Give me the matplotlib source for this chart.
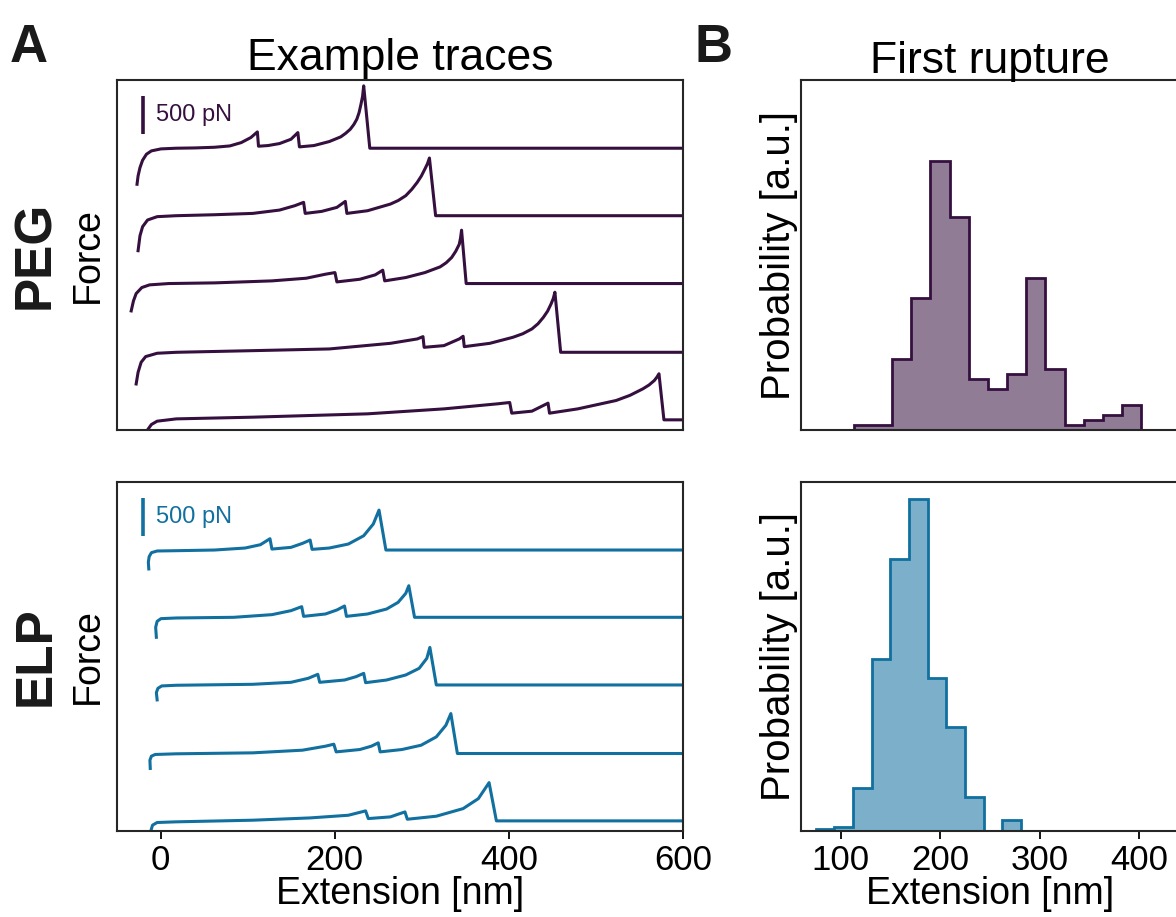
import numpy as np
import matplotlib.pyplot as plt

plt.rcParams['font.family'] = ['Liberation Sans', 'DejaVu Sans']

peg_color = '#35103f'
elp_color = '#11709f'

# example traces: extension [nm] and force above each trace's baseline [pN]
peg_ext = [
    [-27, -25.8, -23.6, -20.6, -16.2, -10.5, 0.5, 18, 40, 62, 79.6, 92.7, 103.7, 111.2, 112.5, 123.5, 136.7,
     149.8, 157.7, 159.5, 176.2, 193.8, 206.9, 212.5, 217.9, 222, 225.4, 228, 230.2, 232, 233.3, 240.3, 600],
    [-25.8, -23.6, -20.6, -14.9, -3.9, 18.1, 62, 105.9, 136.7, 154.2, 164.3, 166.1, 185, 202.5, 212.2, 214,
     237.7, 264, 273, 281.6, 288.5, 294.8, 299.5, 303.6, 306.5, 308.8, 315.9, 600],
    [-33.7, -31.1, -28, -21.5, -12.7, 9.3, 62, 127.9, 167.4, 189.4, 200.3, 202.5, 228.9, 246.5, 255.2, 257.4,
     281.6, 303.6, 321.1, 328, 334.3, 339, 343.1, 344.6, 345.7, 351, 600],
    [-28, -25.8, -22.3, -17.1, -3.9, 18.1, 105.9, 193.8, 264, 294.8, 301.4, 302.7, 325.5, 343.1, 347.5, 348.8,
     378.2, 404.6, 416, 426.5, 433.5, 439.7, 444.5, 448.5, 451, 452.9, 459.5, 600],
    [-19.3, -14.9, -10.5, -3.9, 18.1, 105.9, 237.7, 325.5, 387, 401, 403.3, 426.5, 445, 446.7, 479.2, 523.2,
     539, 553.9, 561, 567.1, 570, 572.4, 578.1, 600],
]
peg_force = [
    [-486, -374, -261, -162, -81, -36, -9, 0, 4, 13, 31, 76, 144, 220, 27, 36, 63, 121, 211, 18, 36, 90, 153,
     200, 256, 320, 391, 480, 594, 700, 841, 0, 0],
    [-472, -270, -148, -58, -13, 0, 13, 31, 76, 135, 180, 31, 58, 112, 193, 31, 67, 157, 205, 270, 355, 450,
     535, 630, 700, 778, 0, 0],
    [-369, -234, -135, -54, -18, 0, 9, 36, 72, 126, 148, 22, 58, 117, 180, 36, 81, 148, 225, 280, 351, 435,
     531, 620, 720, 0, 0],
    [-427, -270, -135, -58, -13, 0, 22, 45, 121, 180, 211, 67, 90, 180, 216, 76, 121, 202, 250, 315, 385, 472,
     555, 652, 725, 810, 0, 0],
    [-369, -135, -63, -18, 13, 36, 81, 148, 216, 234, 90, 117, 225, 90, 148, 261, 330, 418, 470, 531, 575, 621,
     0, 0],
]
elp_ext = [
    [-13.5, -14.0, -13.1, -10.5, -3.9, 18.1, 62, 97.1, 114.7, 125.7, 127.9, 149.8, 163, 171.8, 174, 193.8,
     215.7, 233.3, 244.3, 250.9, 258.8, 600],
    [-4.8, -5.6, -3.9, 0.5, 18.1, 84, 127.9, 149.8, 162.1, 164.3, 189.4, 202.5, 211.3, 213.5, 237.7, 259.6,
     272.8, 281.6, 285.1, 291.7, 600],
    [-3.9, -4.8, -3, 1.4, 18.1, 105.9, 149.8, 169.6, 180.6, 182.8, 211.3, 224.5, 233.3, 235.5, 259.6, 281.6,
     297, 305.8, 309.3, 316.7, 600],
    [-11.8, -12.2, -10.5, -6.1, 18.1, 105.9, 163, 189.4, 199, 201.7, 228.9, 242.1, 250, 252.2, 277.2, 299.2,
     316.7, 327.7, 333.4, 340.9, 600],
    [-11.4, -10.9, -9.2, -3.9, 18.1, 105.9, 171.8, 215.7, 235.5, 238.6, 264, 272.8, 280.7, 283.4, 316.7, 347.5,
     365, 377.3, 385.7, 600],
]
elp_force = [
    [-256, -166, -90, -36, -13, -9, 0, 27, 72, 153, 13, 36, 90, 135, 9, 27, 81, 193, 351, 540, 0, 0],
    [-270, -135, -54, -18, -9, 0, 36, 90, 144, 13, 45, 99, 153, 13, 45, 112, 202, 324, 427, 0, 0],
    [-202, -103, -45, -13, -4, 9, 36, 90, 144, 36, 67, 112, 157, 31, 67, 135, 225, 360, 508, 0, 0],
    [-202, -90, -36, -13, -4, 9, 45, 99, 126, 22, 54, 99, 144, 22, 54, 112, 225, 382, 540, 0, 0],
    [-216, -126, -58, -22, -13, 9, 40, 76, 135, 31, 54, 90, 121, 22, 63, 166, 301, 517, 0, 0],
]
trace_offsets = [3800, 2890, 1975, 1048, 137]  # pN, vertical shift of each trace

# first rupture histograms
peg_edges = [112.8, 132.1, 151.4, 170.7, 190.0, 209.3, 228.5, 247.8, 267.1, 286.4, 305.7, 325.0, 344.3,
             363.6, 382.9, 402.2]
peg_counts = [1, 1, 14, 26, 53, 42, 10, 8, 11, 30, 12, 1, 2, 3, 5]
elp_edges = [74.9, 93.6, 112.4, 131.1, 149.8, 168.6, 187.3, 206.0, 224.7, 243.5, 262.2, 280.9]
elp_counts = [1, 2, 20, 81, 128, 156, 72, 49, 16, 0, 5]

W, H = 1176, 917
fig = plt.figure(figsize=(W / 100, H / 100), dpi=100)


def box(l, t, r, b):
    return [l / W, 1 - b / H, (r - l) / W, (b - t) / H]


ax_pt = fig.add_axes(box(117, 80, 683, 430))
ax_et = fig.add_axes(box(117, 482, 683, 831))
ax_ph = fig.add_axes(box(801, 80, 1180, 430))
ax_eh = fig.add_axes(box(801, 482, 1180, 831))


def draw_traces(ax, ext, force, c):
    for x, f, off in zip(ext, force, trace_offsets):
        ax.plot(x, np.array(f) + off, color=c, lw=2.2, solid_joinstyle='round')
    ax.set_xlim(-50, 600)
    ax.set_ylim(0, 4720)
    ax.set_yticks([])
    # 500 pN scale bar
    ax.plot([-20, -20], [3990, 4500], color=c, lw=2.6, solid_capstyle='butt')
    ax.text(-5, 4250, '500 pN', color=c, fontsize=17, va='center', ha='left')
    ax.set_ylabel('Force', fontsize=27, labelpad=8)


def draw_hist(ax, edges, counts, c, top):
    ax.stairs(counts, edges, fill=True, color=c, alpha=0.55, lw=0)
    ax.stairs(counts, edges, color=c, lw=2.0)
    ax.set_xlim(60, 441)
    ax.set_ylim(0, top)
    ax.set_yticks([])
    ax.set_ylabel('Probability [a.u.]', fontsize=29, labelpad=2)


draw_traces(ax_pt, peg_ext, peg_force, peg_color)
draw_traces(ax_et, elp_ext, elp_force, elp_color)
draw_hist(ax_ph, peg_edges, peg_counts, peg_color, 69)
draw_hist(ax_eh, elp_edges, elp_counts, elp_color, 164)

for ax in [ax_pt, ax_et, ax_ph, ax_eh]:
    for s in ax.spines.values():
        s.set_linewidth(1.5)
        s.set_color('#262626')
    ax.tick_params(axis='x', labelsize=25, length=6, width=1.3, pad=3)

ax_pt.set_xticks([])
ax_ph.set_xticks([])
ax_et.set_xticks([0, 200, 400, 600])
ax_eh.set_xticks([100, 200, 300, 400])
ax_et.set_xlabel('Extension [nm]', fontsize=27, labelpad=0)
ax_eh.set_xlabel('Extension [nm]', fontsize=27, labelpad=0)

ax_pt.set_title('Example traces', fontsize=32, pad=7)
fig.text(990 / W, 1 - 73 / H, 'First rupture', fontsize=32, ha='center', va='baseline')

fig.text(36 / W, 1 - 255 / H, 'PEG', fontsize=37, fontweight='bold', rotation=90,
         ha='center', va='center', color='#1a1a1a')
fig.text(36 / W, 1 - 656 / H, 'ELP', fontsize=37, fontweight='bold', rotation=90,
         ha='center', va='center', color='#1a1a1a')
fig.text(10 / W, 1 - 62 / H, 'A', fontsize=38, fontweight='bold', ha='left', va='baseline', color='#1a1a1a')
fig.text(695 / W, 1 - 62 / H, 'B', fontsize=38, fontweight='bold', ha='left', va='baseline', color='#1a1a1a')

fig.savefig('out.png', dpi=100)
